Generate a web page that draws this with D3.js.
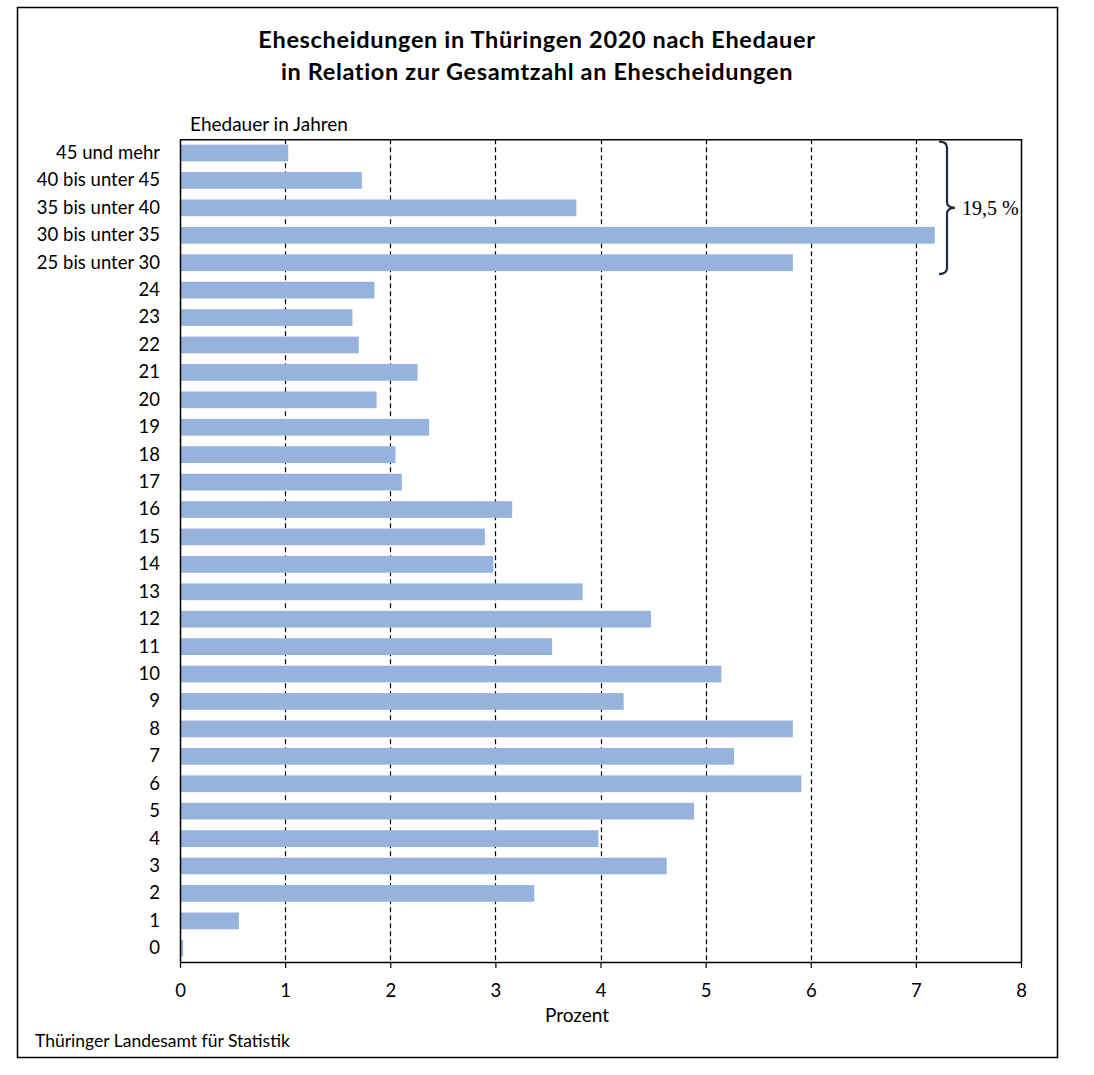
<!DOCTYPE html>
<html>
<head>
<meta charset="utf-8">
<script src="https://cdn.jsdelivr.net/npm/d3@7"></script>
<style>
  body { margin: 0; background: #fff; }
  svg { display: block; }
</style>
</head>
<body>
<svg id="chart" width="1094" height="1075"></svg>
<script>
// Ehedauer categories, top to bottom as in the chart
const categories = [
  "45 und mehr", "40 bis unter 45", "35 bis unter 40", "30 bis unter 35", "25 bis unter 30",
  "24", "23", "22", "21", "20", "19", "18", "17", "16", "15", "14", "13", "12", "11", "10",
  "9", "8", "7", "6", "5", "4", "3", "2", "1", "0"
];

// share of all divorces in percent
const values = [
  1.03, 1.73, 3.77, 7.18, 5.83,
  1.85, 1.64, 1.70, 2.26, 1.87, 2.37, 2.05, 2.11, 3.16, 2.90, 2.98, 3.83, 4.48, 3.54, 5.15,
  4.22, 5.83, 5.27, 5.91, 4.89, 3.98, 4.63, 3.37, 0.56, 0.03
];

const xTicks = [0, 1, 2, 3, 4, 5, 6, 7, 8];

const titleLines = [
  "Ehescheidungen in Thüringen 2020 nach Ehedauer",
  "in Relation zur Gesamtzahl an Ehescheidungen"
];

// bracket over the long marriages
const bracketFrom = "45 und mehr";
const bracketTo = "25 bis unter 30";
const bracketLabel = "19,5 %";

const colors = {
  bar: "#95b3dc",
  grid: "#000",
  axis: "#000",
  text: "#000",
  bracket: "#1f2a44"
};

const font = "Lato, 'Open Sans', sans-serif";

function main() {
  const svg = d3.select("#chart");
  const W = 1094, H = 1075;

  const plot = { left: 180, right: 1021, top: 139.3, bottom: 962 };

  svg.append("rect").attr("width", W).attr("height", H).attr("fill", "#fff");

  // outer frame
  svg.append("rect")
    .attr("x", 17.5).attr("y", 7.5)
    .attr("width", 1040).attr("height", 1050)
    .attr("fill", "none")
    .attr("stroke", "#000")
    .attr("stroke-width", 1.5);

  const x = d3.scaleLinear().domain([0, 8]).range([plot.left, plot.right]);
  const y = d3.scaleBand()
    .domain(categories)
    .range([plot.top, plot.bottom])
    .paddingInner(0.39)
    .paddingOuter(0.195);

  // title
  svg.append("g").selectAll("text")
    .data(titleLines)
    .enter().append("text")
    .attr("x", 537)
    .attr("y", (d, i) => 48 + i * 32)
    .attr("text-anchor", "middle")
    .style("font-family", font)
    .style("font-weight", "bold")
    .style("font-size", "23.5px")
    .style("letter-spacing", "0.65px")
    .attr("fill", colors.text)
    .text(d => d);

  // dashed grid lines
  svg.append("g").selectAll("line")
    .data(xTicks.filter(t => t > 0 && t < 8))
    .enter().append("line")
    .attr("x1", d => Math.round(x(d)) + 0.5)
    .attr("x2", d => Math.round(x(d)) + 0.5)
    .attr("y1", plot.top)
    .attr("y2", plot.bottom)
    .attr("stroke", colors.grid)
    .attr("stroke-width", 1.2)
    .attr("stroke-dasharray", "5,3");

  // bars
  svg.append("g").selectAll("rect")
    .data(values)
    .enter().append("rect")
    .attr("x", x(0))
    .attr("y", (d, i) => y(categories[i]))
    .attr("width", d => x(d) - x(0))
    .attr("height", y.bandwidth())
    .attr("fill", colors.bar);

  // plot frame (top and right)
  svg.append("path")
    .attr("d", `M${plot.left},${plot.top + 0.5}H${plot.right + 0.5}V${plot.bottom}`)
    .attr("fill", "none")
    .attr("stroke", colors.axis)
    .attr("stroke-width", 1.5);

  // y axis
  const yAxis = svg.append("g")
    .attr("transform", `translate(${plot.left},0)`)
    .call(d3.axisLeft(y).tickSize(0).tickPadding(20));
  yAxis.select(".domain").attr("stroke", colors.axis).attr("stroke-width", 1.5);
  yAxis.selectAll("text")
    .style("font-family", font)
    .style("font-size", "18.5px")
    .attr("fill", colors.text);

  // x axis
  const xAxis = svg.append("g")
    .attr("transform", `translate(0,${plot.bottom})`)
    .call(d3.axisBottom(x).tickValues(xTicks).tickFormat(d3.format("d"))
      .tickSize(6).tickSizeOuter(0).tickPadding(16));
  xAxis.select(".domain").attr("stroke", colors.axis).attr("stroke-width", 1.5);
  xAxis.selectAll(".tick line").attr("stroke", colors.axis).attr("stroke-width", 1.2);
  xAxis.selectAll("text")
    .style("font-family", font)
    .style("font-size", "18.5px")
    .attr("fill", colors.text);

  // axis titles
  svg.append("text")
    .attr("x", 190).attr("y", 131)
    .style("font-family", font).style("font-size", "19px")
    .attr("fill", colors.text)
    .text("Ehedauer in Jahren");

  svg.append("text")
    .attr("x", 577).attr("y", 1022)
    .attr("text-anchor", "middle")
    .style("font-family", font).style("font-size", "19px")
    .attr("fill", colors.text)
    .text("Prozent");

  // source
  svg.append("text")
    .attr("x", 35).attr("y", 1047)
    .style("font-family", font).style("font-size", "17.5px")
    .attr("fill", colors.text)
    .text("Thüringer Landesamt für Statistik");

  // curly bracket
  const bTop = y(bracketFrom) - 3;
  const bBot = y(bracketTo) + y.bandwidth() + 3;
  const bMid = (bTop + bBot) / 2;
  const bx = x(7.22);
  const bw = 8;
  const r = 6;
  const bracePath = [
    `M${bx},${bTop}`,
    `Q${bx + bw},${bTop} ${bx + bw},${bTop + r}`,
    `V${bMid - r}`,
    `Q${bx + bw},${bMid} ${bx + bw + 8},${bMid}`,
    `Q${bx + bw},${bMid} ${bx + bw},${bMid + r}`,
    `V${bBot - r}`,
    `Q${bx + bw},${bBot} ${bx},${bBot}`
  ].join(" ");
  svg.append("path")
    .attr("d", bracePath)
    .attr("fill", "none")
    .attr("stroke", colors.bracket)
    .attr("stroke-width", 2.2);

  svg.append("text")
    .attr("x", bx + bw + 15).attr("y", bMid + 7)
    .style("font-family", "'Liberation Serif', 'DejaVu Serif', serif")
    .style("font-size", "20px")
    .attr("fill", colors.text)
    .text(bracketLabel);
}

main();
</script>
</body>
</html>
